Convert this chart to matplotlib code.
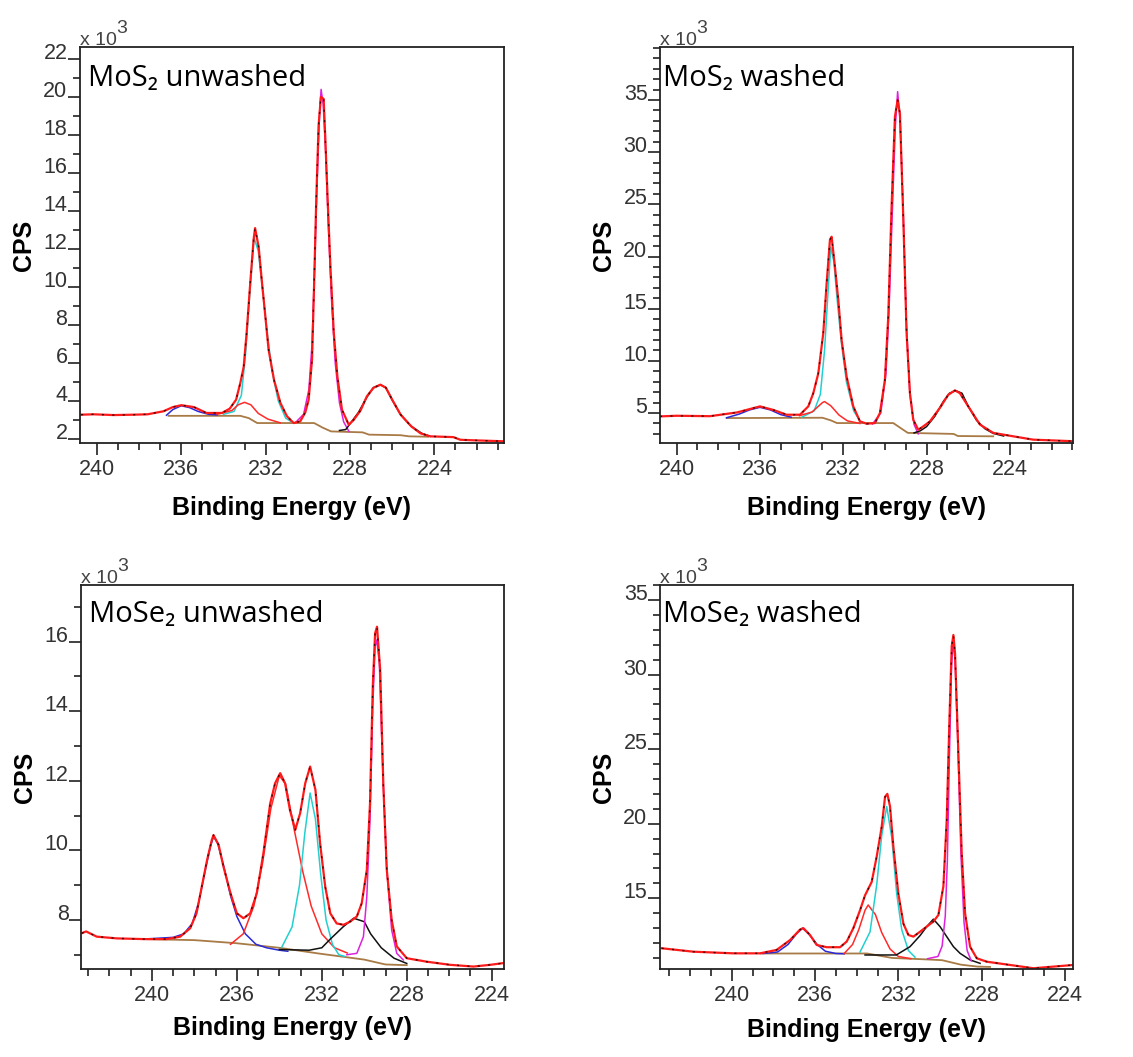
import matplotlib
matplotlib.use("Agg")
import matplotlib.pyplot as plt
from matplotlib.ticker import MultipleLocator, FixedLocator
from matplotlib.transforms import offset_copy

# values: (binding energy in eV, CPS x 10^3)

# ---- MoS2 unwashed ----
p1_data = [(240.75, 3.28), (240.15, 3.30), (239.2, 3.26), (238.26, 3.28), (237.6, 3.30),
           (236.84, 3.46), (236.4, 3.68), (236.0, 3.78), (235.4, 3.68), (234.8, 3.37),
           (234.07, 3.37), (233.7, 3.6), (233.4, 4.07), (233.2, 4.95), (233.04, 5.8),
           (232.9, 7.6), (232.73, 10.2), (232.57, 12.5), (232.5, 13.1), (232.33, 12.1),
           (232.17, 10.2), (232.0, 8.3), (231.86, 6.7), (231.6, 5.1), (231.3, 3.9),
           (230.99, 3.2), (230.67, 2.84), (230.36, 2.93), (230.12, 3.4), (229.96, 4.07),
           (229.8, 6.2), (229.7, 10.2), (229.6, 14.6), (229.49, 18.5), (229.38, 20.0),
           (229.25, 19.9), (229.17, 17.8), (229.06, 14.6), (228.93, 11.1), (228.77, 7.6),
           (228.6, 5.3), (228.38, 3.54), (228.06, 2.75), (227.83, 3.0), (227.5, 3.5),
           (227.2, 4.25), (226.88, 4.7), (226.56, 4.86), (226.3, 4.7), (226.0, 4.07),
           (225.6, 3.28), (225.1, 2.67), (224.66, 2.3), (224.2, 2.14), (223.1, 2.1),
           (222.77, 1.96), (222.1, 1.93), (220.7, 1.88)]
p1_bg = [(236.6, 3.22), (233.2, 3.22), (232.8, 3.1), (232.4, 2.84), (229.7, 2.84),
         (229.3, 2.6), (228.9, 2.4), (227.4, 2.35), (227.1, 2.23), (225.6, 2.2),
         (225.2, 2.14), (224.3, 2.12)]
p1_blue = [(236.7, 3.25), (236.4, 3.55), (236.0, 3.75), (235.6, 3.65), (235.2, 3.45),
           (234.7, 3.3), (234.3, 3.27)]
p1_cyan = [(234.0, 3.3), (233.5, 3.45), (233.15, 4.3), (232.95, 6.5), (232.75, 9.7),
           (232.55, 12.6), (232.35, 11.9), (232.15, 9.9), (231.95, 7.8), (231.7, 5.6),
           (231.4, 4.0), (231.05, 3.1), (230.7, 2.85)]
p1_red = [(234.3, 3.3), (233.6, 3.5), (233.3, 3.8), (233.0, 3.93), (232.7, 3.8),
          (232.35, 3.35), (231.9, 3.05), (231.3, 2.85)]
p1_magenta = [(230.6, 2.85), (230.2, 3.3), (229.95, 4.6), (229.8, 7.0), (229.68, 11.0),
              (229.56, 15.5), (229.44, 19.2), (229.37, 20.4), (229.27, 19.6), (229.15, 17.0),
              (229.02, 13.0), (228.87, 9.2), (228.7, 6.0), (228.5, 3.9), (228.3, 2.9),
              (228.05, 2.4)]
p1_black = [(228.5, 2.45), (228.2, 2.5), (228.0, 2.8), (227.6, 3.4), (227.2, 4.2),
            (226.9, 4.7), (226.55, 4.85), (226.3, 4.7), (226.0, 4.05), (225.6, 3.28),
            (225.1, 2.67), (224.6, 2.3), (224.2, 2.14)]
p1_yticks = [2, 4, 6, 8, 10, 12, 14, 16, 18, 20, 22]

# ---- MoS2 washed ----
p2_data = [(240.8, 4.68), (240.0, 4.74), (238.4, 4.7), (237.1, 5.06), (236.0, 5.64),
           (235.36, 5.3), (234.72, 4.84), (234.08, 4.84), (233.68, 5.64), (233.44, 6.9),
           (233.2, 8.8), (232.96, 12.66), (232.8, 17.4), (232.64, 21.6), (232.56, 21.9),
           (232.4, 19.0), (232.24, 15.85), (232.08, 12.0), (231.84, 8.5), (231.52, 5.64),
           (231.2, 4.2), (230.88, 3.98), (230.48, 4.04), (230.24, 5.0), (230.0, 8.2),
           (229.84, 14.25), (229.68, 24.8), (229.52, 33.4), (229.39, 35.0), (229.28, 33.7),
           (229.12, 23.8), (228.96, 12.66), (228.8, 6.9), (228.64, 4.36), (228.4, 3.4),
           (228.16, 3.72), (227.84, 4.2), (227.36, 5.5), (226.96, 6.75), (226.64, 7.17),
           (226.4, 6.9), (226.0, 5.64), (225.44, 3.9), (224.8, 3.1), (223.84, 2.77),
           (222.88, 2.45), (220.96, 2.3)]
p2_bg = [(237.6, 4.52), (233.0, 4.55), (232.6, 4.3), (232.3, 4.04), (229.6, 4.04),
         (229.2, 3.5), (228.9, 3.1), (226.7, 3.0), (226.5, 2.8), (224.8, 2.77)]
p2_blue = [(237.6, 4.55), (237.0, 4.9), (236.5, 5.3), (236.0, 5.55), (235.5, 5.3),
           (235.0, 4.85), (234.5, 4.6)]
p2_cyan = [(234.0, 4.6), (233.4, 5.2), (233.1, 6.8), (232.9, 11.0), (232.75, 16.0),
           (232.6, 20.9), (232.45, 19.5), (232.3, 16.0), (232.1, 11.9), (231.85, 8.0),
           (231.5, 5.2), (231.15, 4.1), (230.8, 3.95)]
p2_red = [(234.1, 4.75), (233.5, 5.1), (233.0, 6.0), (232.9, 6.1), (232.6, 5.7),
          (232.2, 4.8), (231.8, 4.25), (231.2, 4.0)]
p2_magenta = [(230.6, 3.95), (230.2, 5.0), (229.95, 8.8), (229.8, 15.0), (229.65, 24.0),
              (229.5, 32.5), (229.39, 35.8), (229.27, 33.0), (229.12, 24.0), (228.97, 13.5),
              (228.8, 6.8), (228.6, 3.9), (228.4, 3.0)]
p2_black = [(228.6, 3.1), (228.3, 3.3), (228.0, 3.7), (227.6, 4.7), (227.2, 6.1),
            (226.9, 6.9), (226.6, 7.15), (226.3, 6.9), (226.0, 5.65), (225.6, 4.3),
            (225.2, 3.5), (224.8, 3.05), (224.3, 2.8)]
p2_yticks = [5, 10, 15, 20, 25, 30, 35]

# ---- MoSe2 unwashed ----
p3_data = [(243.3, 7.62), (243.1, 7.67), (242.6, 7.52), (241.65, 7.47), (240.4, 7.45),
           (239.3, 7.45), (238.67, 7.52), (238.2, 7.76), (237.9, 8.19), (237.65, 8.96),
           (237.4, 9.73), (237.18, 10.3), (237.1, 10.44), (236.86, 10.16), (236.63, 9.53),
           (236.3, 8.77), (236.0, 8.19), (235.69, 8.05), (235.37, 8.19), (235.06, 8.77),
           (234.75, 9.92), (234.43, 11.35), (234.2, 11.93), (233.96, 12.22), (233.73, 11.93),
           (233.5, 11.16), (233.25, 10.59), (233.02, 11.07), (232.78, 11.93), (232.55, 12.41),
           (232.3, 11.74), (232.08, 10.2), (231.84, 8.96), (231.6, 8.19), (231.3, 7.9),
           (230.98, 7.86), (230.67, 7.95), (230.35, 8.1), (230.12, 8.48), (229.88, 9.44),
           (229.73, 11.35), (229.6, 14.7), (229.49, 16.24), (229.4, 16.43), (229.25, 15.18),
           (229.1, 11.83), (228.94, 9.44), (228.71, 8.0), (228.47, 7.24), (228.0, 6.9),
           (227.06, 6.8), (225.96, 6.71), (224.86, 6.66), (224.07, 6.71), (223.45, 6.76)]
p3_bg = [(240.5, 7.45), (238.0, 7.42), (236.0, 7.33), (234.0, 7.2), (232.2, 7.04),
         (230.0, 6.86), (229.0, 6.72), (228.0, 6.7)]
p3_blue = [(240.4, 7.45), (239.0, 7.5), (238.5, 7.6), (238.1, 7.9), (237.8, 8.5),
           (237.5, 9.4), (237.25, 10.1), (237.1, 10.4), (236.9, 10.2), (236.6, 9.5),
           (236.3, 8.7), (236.0, 8.1), (235.6, 7.6), (235.1, 7.3), (234.6, 7.2),
           (234.0, 7.13), (233.6, 7.1)]
p3_red = [(236.3, 7.3), (235.7, 7.6), (235.2, 8.4), (234.8, 9.6), (234.4, 11.2),
          (234.0, 12.15), (233.7, 11.9), (233.3, 10.6), (232.9, 9.4), (232.5, 8.4),
          (232.0, 7.6), (231.4, 7.2), (230.8, 7.05)]
p3_cyan = [(233.9, 7.2), (233.4, 7.8), (233.05, 9.0), (232.8, 10.5), (232.55, 11.65),
           (232.3, 10.9), (232.05, 9.3), (231.8, 8.0), (231.5, 7.3), (231.2, 7.0),
           (230.9, 6.95)]
p3_black = [(234.0, 7.15), (232.6, 7.13), (232.0, 7.2), (231.6, 7.45), (231.0, 7.8),
            (230.5, 8.05), (230.0, 7.95), (229.7, 7.6), (229.2, 7.2), (228.6, 6.9),
            (228.0, 6.75)]
p3_magenta = [(230.82, 7.0), (230.35, 7.04), (230.04, 7.52), (229.88, 8.67), (229.73, 10.88),
              (229.6, 14.13), (229.49, 15.86), (229.41, 16.05), (229.29, 15.38), (229.13, 12.31),
              (228.94, 9.44), (228.71, 7.71), (228.47, 7.04), (228.16, 6.85)]
p3_yticks = [8, 10, 12, 14, 16]

# ---- MoSe2 washed ----
p4_data = [(243.36, 11.65), (241.84, 11.42), (239.92, 11.31), (238.64, 11.31), (237.84, 11.54),
           (237.2, 12.2), (236.72, 12.9), (236.56, 13.0), (236.24, 12.54), (235.92, 11.87),
           (235.44, 11.72), (234.8, 11.72), (234.48, 12.1), (234.16, 13.0), (233.84, 14.2),
           (233.6, 15.2), (233.28, 16.1), (233.04, 17.8), (232.8, 19.8), (232.64, 21.8),
           (232.53, 22.0), (232.4, 21.15), (232.24, 18.46), (232.0, 15.3), (231.76, 13.3),
           (231.52, 12.54), (231.28, 12.43), (230.96, 12.76), (230.64, 13.1), (230.32, 13.44),
           (230.08, 13.88), (229.84, 15.8), (229.68, 20.25), (229.55, 26.95), (229.44, 31.9),
           (229.36, 32.65), (229.28, 31.4), (229.12, 24.7), (228.96, 18.0), (228.8, 14.0),
           (228.56, 11.76), (228.24, 10.98), (227.76, 10.75), (226.64, 10.53), (225.52, 10.31),
           (224.56, 10.42), (223.6, 10.53)]
p4_bg = [(238.6, 11.3), (233.5, 11.3), (232.3, 11.0), (230.6, 10.9), (229.9, 10.85),
         (229.0, 10.55), (228.2, 10.42), (227.6, 10.4)]
p4_blue = [(238.5, 11.3), (237.8, 11.4), (237.3, 11.9), (236.9, 12.6), (236.6, 13.0),
           (236.3, 12.6), (235.9, 11.9), (235.5, 11.45), (235.0, 11.3), (234.6, 11.28)]
p4_red = [(234.6, 11.3), (234.2, 11.9), (233.9, 12.9), (233.6, 14.2), (233.45, 14.55),
          (233.1, 13.9), (232.8, 12.7), (232.4, 11.6), (232.0, 11.1), (231.4, 10.95)]
p4_cyan = [(233.84, 11.4), (233.36, 12.75), (233.04, 15.9), (232.8, 19.2), (232.56, 21.15),
           (232.32, 19.1), (232.08, 15.3), (231.84, 12.9), (231.52, 11.5), (231.2, 11.05)]
p4_black = [(233.6, 11.2), (232.1, 11.2), (231.44, 11.76), (230.96, 12.5), (230.64, 13.1),
            (230.32, 13.6), (230.0, 13.1), (229.68, 12.43), (229.36, 11.76), (229.04, 11.31),
            (228.56, 10.87), (228.08, 10.64)]
p4_magenta = [(230.6, 10.95), (230.1, 11.1), (229.9, 11.8), (229.75, 13.8), (229.65, 17.5),
              (229.55, 24.5), (229.45, 30.5), (229.38, 32.2), (229.28, 31.0), (229.15, 25.5),
              (229.0, 18.0), (228.85, 13.4), (228.7, 11.5), (228.5, 10.8)]
p4_yticks = [15, 20, 25, 30, 35]

titles = ["MoS\u2082 unwashed", "MoS\u2082 washed", "MoSe\u2082 unwashed", "MoSe\u2082 washed"]

W, H = 1133, 1057
AX_FONT = "Liberation Sans"
DATA_RED = "#ff1a1a"


def xy(points):
    return [p[0] for p in points], [p[1] for p in points]


def draw_panel(ax, data, bg, comps, yticks, xlim, ylim, title, title_dx, title_dy):
    x, y = xy(bg)
    ax.plot(x, y, color="#a87a45", lw=1.3)
    for pts, col in comps:
        x, y = xy(pts)
        ax.plot(x, y, color=col, lw=1.1)
    x, y = xy(data)
    ax.plot(x, y, color=DATA_RED, lw=1.6)
    # fit envelope, dark dashes over the measured trace
    ax.plot(x, y, color="#4a0000", lw=1.0, dashes=(1.5, 6))

    ax.set_xlim(*xlim)
    ax.set_ylim(*ylim)
    ax.xaxis.set_major_locator(MultipleLocator(4))
    ax.xaxis.set_minor_locator(MultipleLocator(1))
    ax.yaxis.set_major_locator(FixedLocator(yticks))
    ax.yaxis.set_minor_locator(MultipleLocator(1))
    ax.tick_params(which="both", direction="out", color="#333333", width=1.3)
    ax.tick_params(which="major", length=8.5, labelsize=15.5, labelcolor="#333333")
    ax.tick_params(which="minor", length=5)
    ax.tick_params(axis="y", pad=0.5)
    ax.tick_params(axis="x", pad=3)
    for lab in ax.get_xticklabels() + ax.get_yticklabels():
        lab.set_fontfamily(AX_FONT)
    for lab in ax.get_yticklabels():
        lab.set_va("baseline")
    for sp in ax.spines.values():
        sp.set_color("#222222")
        sp.set_linewidth(1.3)

    bb = ax.get_position()
    wpx, hpx = bb.width * W, bb.height * H
    ax.text(title_dx / wpx, 1 - title_dy / hpx, title, transform=ax.transAxes,
            fontsize=21, family=["Open Sans", "DejaVu Sans"], va="baseline", ha="left")
    # "x 10" with a full-size raised "3"
    base = ax.text(0, 1 + 2 / hpx, "x 10", transform=ax.transAxes, fontsize=14,
                   family=AX_FONT, color="#444444", va="baseline", ha="left")
    ax.text(36 / wpx, 1 + 2 / hpx, "3", fontsize=14, family=AX_FONT, color="#444444",
            va="baseline", ha="left",
            transform=offset_copy(ax.transAxes, fig=ax.figure, y=12 * 72 / 100, units="points"))
    ax.text(-56 / wpx, 0.5, "CPS", transform=ax.transAxes, rotation=90,
            fontsize=18, fontweight="bold", family=AX_FONT, ha="center", va="center")
    return base


fig = plt.figure(figsize=(W / 100, H / 100), dpi=100)

# panel boxes in pixels: left, top, right, bottom
boxes = [(80, 47, 504, 443), (660, 47, 1073, 443),
         (81, 585, 504, 969), (660, 585, 1073, 969)]
axes = []
for (l, t, r, b) in boxes:
    axes.append(fig.add_axes([l / W, 1 - b / H, (r - l) / W, (b - t) / H]))

C_BLUE, C_CYAN, C_MAG, C_BLK, C_RED = "#2a2ad8", "#22d0d0", "#dd22dd", "#111111", "#ff2a2a"

draw_panel(axes[0], p1_data, p1_bg,
           [(p1_blue, C_BLUE), (p1_cyan, C_CYAN), (p1_red, C_RED), (p1_magenta, C_MAG), (p1_black, C_BLK)],
           p1_yticks, (240.8, 220.7), (1.79, 22.63), titles[0], 8, 39)
draw_panel(axes[1], p2_data, p2_bg,
           [(p2_blue, C_BLUE), (p2_cyan, C_CYAN), (p2_red, C_RED), (p2_magenta, C_MAG), (p2_black, C_BLK)],
           p2_yticks, (240.8, 220.97), (2.13, 40.08), titles[1], 3, 39)
draw_panel(axes[2], p3_data, p3_bg,
           [(p3_blue, C_BLUE), (p3_red, C_RED), (p3_cyan, C_CYAN), (p3_black, C_BLK), (p3_magenta, C_MAG)],
           p3_yticks, (243.34, 223.42), (6.59, 17.63), titles[2], 8, 37)
draw_panel(axes[3], p4_data, p4_bg,
           [(p4_blue, C_BLUE), (p4_red, C_RED), (p4_cyan, C_CYAN), (p4_black, C_BLK), (p4_magenta, C_MAG)],
           p4_yticks, (243.44, 223.62), (10.26, 36.0), titles[3], 3, 37)

# x labels (baseline offset below each box in px)
for ax, off in zip(axes, [72, 72, 66, 68]):
    hpx = ax.get_position().height * H
    ax.text(0.5, -off / hpx, "Binding Energy (eV)", transform=ax.transAxes,
            fontsize=18, fontweight="bold", family=AX_FONT, ha="center", va="baseline")

fig.savefig("out.png", dpi=100)
